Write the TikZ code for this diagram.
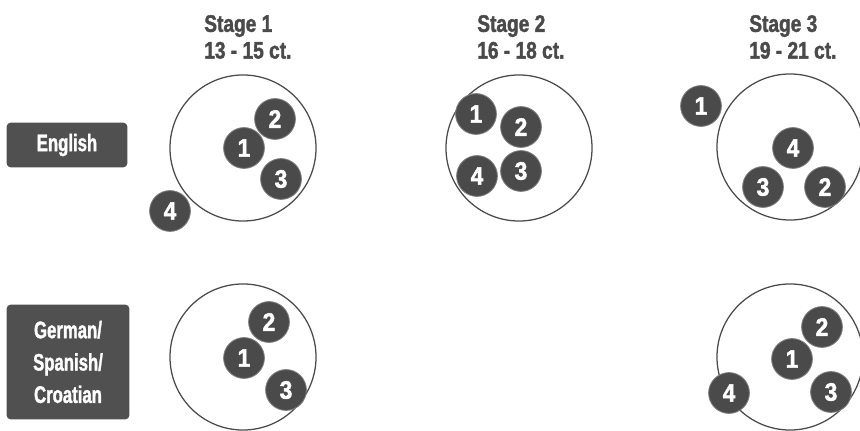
\documentclass[tikz,border=0pt]{standalone}
\usepackage{fontspec}
\setmainfont{Liberation Sans}
\newfontfamily\headfont{Liberation Sans Bold}[FakeStretch=0.8, FakeBold=1.6]
\newfontfamily\boxfont{Liberation Sans Bold}[FakeStretch=0.7, FakeBold=1.4]
\newfontfamily\digitfont{Liberation Sans Bold}[FakeStretch=0.9, FakeBold=1.8]
\definecolor{darkdot}{HTML}{4A4A4A}
\definecolor{boxgray}{HTML}{505050}

\tikzset{
  dot/.style={circle, fill=darkdot, draw=darkdot!70, line width=0.6pt, text=white,
    minimum size=1.02cm, inner sep=0pt, font=\digitfont\fontsize{18}{18}\selectfont},
  ring/.style={circle, draw=darkdot, line width=0.9pt, minimum size=3.65cm, inner sep=0pt},
  langbox/.style={rounded corners=3pt, fill=boxgray, text=white, align=center, inner sep=0pt,
    font=\boxfont\fontsize{17}{23}\selectfont},
  stagehead/.style={text=darkdot, align=left, anchor=west, inner sep=0pt,
    font=\headfont\fontsize{17}{19}\selectfont}
}

\begin{document}
\begin{tikzpicture}[x=0.025cm, y=-0.025cm]
	\useasboundingbox (0,0) rectangle (860,431);
	% stage headings
	\node[stagehead] (h1) at (204,37) {Stage 1\\13 - 15 ct.};
	\node[stagehead] (h2) at (477,37) {Stage 2\\16 - 18 ct.};
	\node[stagehead] (h3) at (749,37) {Stage 3\\19 - 21 ct.};
	% language boxes
	\node[langbox, minimum width=3.02cm, minimum height=1.12cm] (english) at (67,145) {English};
	\node[langbox, minimum width=3.07cm, minimum height=2.87cm] (german) at (68,362) {German/\\Spanish/\\Croatian};
	% big circles
	\node[ring] (e1) at (243,148) {};
	\node[ring] (e2) at (519,148) {};
	\node[ring] (e3) at (790,147) {};
	\node[ring] (g1) at (243,357) {};
	\node[ring] (g3) at (790,357) {};
	% English
	\foreach \lab/\px/\py in {1/244/148, 2/275/119, 3/281/179, 4/170/211}
		\node[dot] (e1-\lab) at (\px,\py) {\lab};
	\foreach \lab/\px/\py in {1/476/114, 2/521/127, 3/521/171, 4/477/176}
		\node[dot] (e2-\lab) at (\px,\py) {\lab};
	\foreach \lab/\px/\py in {1/701/106, 2/825/187, 3/763/187, 4/793/148}
		\node[dot] (e3-\lab) at (\px,\py) {\lab};
	% German/Spanish/Croatian
	\foreach \lab/\px/\py in {1/244/358, 2/269/322, 3/286/390}
		\node[dot] (g1-\lab) at (\px,\py) {\lab};
	\foreach \lab/\px/\py in {1/792/359, 2/822/327, 3/831/392, 4/729/393}
		\node[dot] (g3-\lab) at (\px,\py) {\lab};
\end{tikzpicture}
\end{document}
